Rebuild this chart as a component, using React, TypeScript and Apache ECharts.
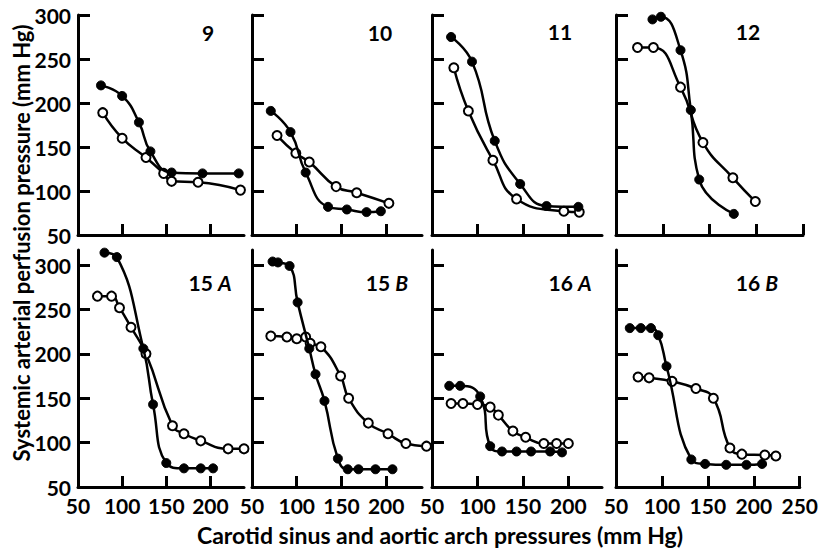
import React, { useEffect, useRef } from "react";
import * as echarts from "echarts";

// ---- data (x: carotid sinus & aortic arch pressure, y: systemic arterial perfusion pressure)
const panelNames = ["9", "10", "11", "12", "15", "15", "16", "16"];
const panelSuffix = ["", "", "", "", "A", "B", "A", "B"];

const p9FilledX = [76, 100, 119, 132, 156, 191, 232];
const p9FilledY = [220, 208, 178, 145, 121, 120, 120];
const p9OpenX = [78, 100, 127, 147, 156, 186, 234];
const p9OpenY = [189, 160, 138, 120, 111, 110, 101];

const p10FilledX = [71, 93, 110, 135, 156, 178, 194];
const p10FilledY = [191, 167, 121, 82, 79, 76, 77];
const p10OpenX = [78, 99, 114, 144, 167, 203];
const p10OpenY = [163, 143, 133, 105, 98, 86];

const p11FilledX = [71, 94, 119, 147, 176, 211];
const p11FilledY = [275, 247, 157, 108, 83, 82];
const p11OpenX = [74, 90, 117, 143, 195, 212];
const p11OpenY = [240, 191, 135, 91, 77, 76];

const p12FilledX = [89, 98, 119, 130, 139, 176];
const p12FilledY = [295, 298, 260, 192, 113, 74];
const p12OpenX = [73, 90, 119, 143, 175, 199];
const p12OpenY = [263, 263, 218, 155, 115, 88];

const p15AFilledX = [80, 94, 124, 135, 150, 170, 189, 203];
const p15AFilledY = [314, 309, 206, 143, 77, 71, 71, 71];
const p15AOpenX = [72, 88, 97, 110, 127, 157, 170, 189, 220, 238];
const p15AOpenY = [265, 265, 252, 230, 200, 119, 110, 102, 93, 93];

const p15BFilledX = [73, 79, 92, 101, 114, 121, 131, 146, 157, 169, 188, 207];
const p15BFilledY = [304, 303, 299, 258, 206, 177, 147, 82, 70, 70, 70, 70];
const p15BOpenX = [71, 89, 100, 110, 115, 127, 149, 158, 180, 202, 222, 245];
const p15BOpenY = [220, 219, 217, 219, 212, 208, 175, 150, 122, 110, 99, 96];

const p16AFilledX = [69, 81, 103, 114, 127, 143, 159, 180, 193];
const p16AFilledY = [164, 164, 152, 96, 90, 90, 90, 90, 89];
const p16AOpenX = [71, 84, 100, 114, 123, 139, 153, 173, 187, 200];
const p16AOpenY = [144, 144, 143, 140, 131, 113, 106, 99, 99, 99];

const p16BFilledX = [65, 77, 88, 96, 105, 132, 147, 170, 192, 209];
const p16BFilledY = [229, 229, 229, 221, 186, 81, 76, 75, 75, 76];
const p16BOpenX = [74, 86, 111, 137, 156, 174, 187, 212, 224];
const p16BOpenY = [174, 173, 169, 161, 150, 94, 87, 86, 85];

const xTicksShort = [100, 150, 200];
const xTicksLong = [100, 150, 200, 250];
const xLabelsShort = [50, 100, 150, 200];
const xLabelsLong = [50, 100, 150, 200, 250];
const yTicks = [100, 150, 200, 250, 300];
const yLabels = [50, 100, 150, 200, 250, 300];

const xTitle = "Carotid sinus and aortic arch pressures (mm Hg)";
const yTitle = "Systemic arterial perfusion pressure (mm Hg)";

const panels = [
  [p9FilledX, p9FilledY, p9OpenX, p9OpenY],
  [p10FilledX, p10FilledY, p10OpenX, p10OpenY],
  [p11FilledX, p11FilledY, p11OpenX, p11OpenY],
  [p12FilledX, p12FilledY, p12OpenX, p12OpenY],
  [p15AFilledX, p15AFilledY, p15AOpenX, p15AOpenY],
  [p15BFilledX, p15BFilledY, p15BOpenX, p15BOpenY],
  [p16AFilledX, p16AFilledY, p16AOpenX, p16AOpenY],
  [p16BFilledX, p16BFilledY, p16BOpenX, p16BOpenY],
];

const zip = (xs: number[], ys: number[]) => xs.map((x, i) => [x, ys[i]]);

export default function App() {
  const ref = useRef<HTMLDivElement>(null);
  useEffect(() => {
    if (!ref.current) return;
    const chart = echarts.init(ref.current, null, { renderer: "svg" });
    const font = "Lato";
    const colLeft = [78, 252, 432, 616];
    const colWidth = [166, 170, 170, 187];
    const colMax = [238, 240, 237, 250];
    const rowTop = [15, 250];
    const rowHeight = [220, 237];
    const rowMax = [300, 317];

    const grids: any[] = [];
    const xAxes: any[] = [];
    const yAxes: any[] = [];
    const series: any[] = [];
    const graphics: any[] = [];
    const labelPos = [
      [208, 32], [380, 32], [560, 31], [748, 31],
      [210, 282], [387, 282], [570, 282], [757, 282],
    ];

    for (let i = 0; i < 8; i++) {
      const r = Math.floor(i / 4);
      const c = i % 4;
      grids.push({ left: colLeft[c], top: rowTop[r], width: colWidth[c], height: rowHeight[r] });
      const axisLine = { show: true, onZero: false, lineStyle: { color: "#000", width: 3 } };
      const labelStyle = { color: "#000", fontSize: 21, fontWeight: "bold", fontFamily: font };
      xAxes.push({
        type: "value",
        gridIndex: i,
        min: 50,
        max: colMax[c],
        axisLine,
        axisTick: {
          show: true, inside: true, length: 11,
          lineStyle: { color: "#000", width: 3 },
          customValues: c === 3 ? xTicksLong : xTicksShort,
        },
        axisLabel: {
          show: r === 1,
          margin: 8,
          customValues: c === 3 ? xLabelsLong : xLabelsShort,
          ...labelStyle,
        },
        splitLine: { show: false },
      });
      yAxes.push({
        type: "value",
        gridIndex: i,
        min: 50,
        max: rowMax[r],
        axisLine,
        axisTick: {
          show: true, inside: true, length: 12,
          lineStyle: { color: "#000", width: 3 },
          customValues: yTicks,
        },
        axisLabel: {
          show: c === 0,
          margin: 7,
          customValues: yLabels,
          ...labelStyle,
        },
        splitLine: { show: false },
      });
      const [fx, fy, ox, oy] = panels[i];
      series.push({
        type: "line",
        xAxisIndex: i,
        yAxisIndex: i,
        data: zip(ox, oy),
        smooth: 0.5,
        clip: false,
        symbol: "circle",
        symbolSize: 9,
        lineStyle: { color: "#000", width: 2.5 },
        itemStyle: { color: "#fff", borderColor: "#000", borderWidth: 2 },
        z: 3,
      });
      series.push({
        type: "line",
        xAxisIndex: i,
        yAxisIndex: i,
        data: zip(fx, fy),
        smooth: 0.5,
        clip: false,
        symbol: "circle",
        symbolSize: 9,
        lineStyle: { color: "#000", width: 2.5 },
        itemStyle: { color: "#000", borderColor: "#000", borderWidth: 1 },
        z: 4,
      });
      graphics.push({
        type: "text",
        x: labelPos[i][0],
        y: labelPos[i][1],
        style: {
          text: panelSuffix[i] ? `${panelNames[i]} {i|${panelSuffix[i]}}` : panelNames[i],
          fill: "#000",
          font: `bold 21px ${font}`,
          align: "center",
          verticalAlign: "middle",
          rich: {
            i: { fontStyle: "italic", fontWeight: "bold", fontSize: 21, fontFamily: font, fill: "#000" },
          },
        },
      });
    }

    graphics.push({
      type: "text",
      x: 440,
      y: 535,
      style: {
        text: xTitle,
        fill: "#000",
        font: `bold 23px ${font}`,
        align: "center",
        verticalAlign: "middle",
      },
    });
    graphics.push({
      type: "text",
      x: 21,
      y: 243,
      rotation: Math.PI / 2,
      style: {
        text: yTitle,
        fill: "#000",
        font: `bold 22px ${font}`,
        align: "center",
        verticalAlign: "middle",
      },
    });

    chart.setOption({
      animation: false,
      backgroundColor: "#fff",
      grid: grids,
      xAxis: xAxes,
      yAxis: yAxes,
      series,
      graphic: graphics,
    });
    return () => chart.dispose();
  }, []);
  return (
    <div
      ref={ref}
      style={{ position: "fixed", left: 0, top: 0, width: 821, height: 551, background: "#fff" }}
    />
  );
}
